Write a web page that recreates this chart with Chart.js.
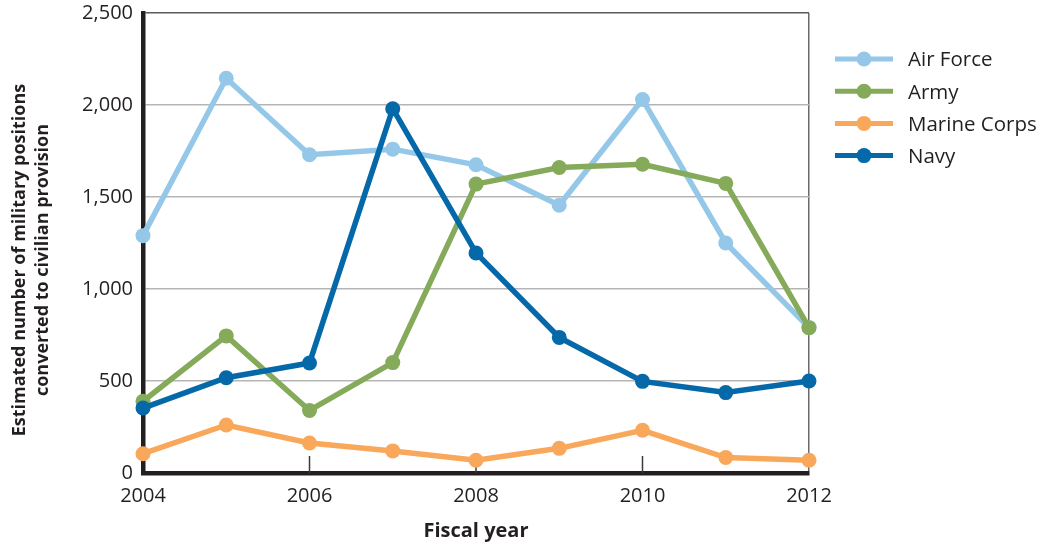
<!DOCTYPE html>
<html>
<head>
<meta charset="utf-8">
<script src="https://cdn.jsdelivr.net/npm/chart.js@4.4.1/dist/chart.umd.min.js"></script>
<style>
  html, body { margin: 0; padding: 0; background: #ffffff; }
  #wrap { width: 1047px; height: 544px; position: relative; }
</style>
</head>
<body>
<div id="wrap"><canvas id="chart"></canvas></div>
<script>
// Fiscal years on the x axis
const years = ['2004', '2005', '2006', '2007', '2008', '2009', '2010', '2011', '2012'];
// Estimated military positions converted to civilian provision, per service
const airForce    = [1290, 2145, 1730, 1760, 1675, 1455, 2030, 1250, 790];
const army        = [390, 745, 340, 600, 1570, 1660, 1678, 1574, 790];
const marineCorps = [105, 261, 163, 120, 69, 134, 232, 84, 69];
const navy        = [353, 518, 598, 1980, 1196, 737, 498, 437, 500];

const seriesNames  = ['Air Force', 'Army', 'Marine Corps', 'Navy'];
const seriesValues = [airForce, army, marineCorps, navy];
const seriesColors = ['#95c8e8', '#84aa5a', '#f9a85b', '#0569a9'];
// Stacking: Navy on top, then Army, Air Force, Marine Corps
const seriesOrder  = [2, 1, 3, 0];

const yTicks = [0, 500, 1000, 1500, 2000, 2500];
const xLabelYears = ['2004', '2006', '2008', '2010', '2012'];
const innerTickYears = ['2006', '2008', '2010'];
const yTitleLines = ['Estimated number of military positions', 'converted to civilian provision'];
const xTitle = 'Fiscal year';

const FONT = '"Open Sans", "Noto Sans", sans-serif';
const TEXT = '#231f20';

// Short tick marks standing up from the x axis inside the plot
const innerTicks = {
  id: 'innerTicks',
  beforeDatasetsDraw(chart) {
    const { ctx, scales: { x }, chartArea } = chart;
    ctx.save();
    ctx.strokeStyle = '#3a3a3a';
    ctx.lineWidth = 1.5;
    innerTickYears.forEach(yr => {
      const px = x.getPixelForValue(years.indexOf(yr));
      ctx.beginPath();
      ctx.moveTo(px, chartArea.bottom - 17);
      ctx.lineTo(px, chartArea.bottom);
      ctx.stroke();
    });
    ctx.restore();
  }
};

// Two-line rotated title for the value axis
const yAxisTitle = {
  id: 'yAxisTitle',
  afterDraw(chart) {
    const { ctx, chartArea } = chart;
    const cy = (chartArea.top + chartArea.bottom) / 2 + 17;
    ctx.save();
    ctx.translate(0, cy);
    ctx.rotate(-Math.PI / 2);
    ctx.fillStyle = TEXT;
    ctx.font = 'bold 18px ' + FONT;
    ctx.textAlign = 'center';
    ctx.textBaseline = 'alphabetic';
    ctx.fillText(yTitleLines[0], 0, 25);
    ctx.fillText(yTitleLines[1], 0, 48);
    ctx.restore();
  }
};

// Legend with line-and-marker swatches to the right of the plot
const lineLegend = {
  id: 'lineLegend',
  afterDraw(chart) {
    const { ctx } = chart;
    ctx.save();
    chart.data.datasets.forEach((ds, i) => {
      const y = 59 + i * 32.2;
      ctx.strokeStyle = ds.borderColor;
      ctx.lineWidth = 5;
      ctx.beginPath();
      ctx.moveTo(835, y);
      ctx.lineTo(893, y);
      ctx.stroke();
      ctx.fillStyle = ds.borderColor;
      ctx.beginPath();
      ctx.arc(864, y, 7.5, 0, Math.PI * 2);
      ctx.fill();
      ctx.fillStyle = TEXT;
      ctx.font = '20.5px ' + FONT;
      ctx.textAlign = 'left';
      ctx.textBaseline = 'middle';
      ctx.fillText(ds.label, 908, y + 1.5);
    });
    ctx.restore();
  }
};

const datasets = seriesNames.map((name, i) => ({
  label: name,
  data: seriesValues[i],
  borderColor: seriesColors[i],
  backgroundColor: seriesColors[i],
  pointBackgroundColor: seriesColors[i],
  pointBorderWidth: 0,
  pointRadius: 7.5,
  pointHoverRadius: 7.5,
  borderWidth: 5.5,
  tension: 0,
  fill: false,
  clip: false,
  order: seriesOrder[i]
}));

new Chart(document.getElementById('chart'), {
  type: 'line',
  data: { labels: years, datasets },
  plugins: [innerTicks, yAxisTitle, lineLegend],
  options: {
    responsive: true,
    maintainAspectRatio: false,
    animation: false,
    events: [],
    layout: { padding: { left: 0, right: 238, top: 13, bottom: 0 } },
    plugins: { legend: { display: false }, tooltip: { enabled: false } },
    scales: {
      x: {
        type: 'category',
        offset: false,
        grid: {
          drawTicks: false,
          lineWidth: 1.5,
          color: c => (c.index === years.length - 1 ? '#6a6a6a' : 'rgba(0,0,0,0)')
        },
        border: { display: true, color: TEXT, width: 4.5 },
        ticks: {
          autoSkip: false,
          maxRotation: 0,
          padding: 11,
          color: TEXT,
          font: { family: FONT, size: 20 },
          callback: function (v, idx) {
            const lab = this.getLabelForValue(v);
            return xLabelYears.includes(lab) ? lab : '';
          }
        },
        title: {
          display: true,
          text: xTitle,
          color: TEXT,
          font: { family: FONT, size: 20, weight: 'bold' },
          padding: { top: 0, bottom: 1 }
        },
        afterFit: s => { s.height = 71; s.paddingLeft = 0; s.paddingRight = 0; }
      },
      y: {
        min: 0,
        max: 2500,
        afterBuildTicks: s => { s.ticks = yTicks.map(v => ({ value: v })); },
        grid: {
          drawTicks: false,
          lineWidth: 1.5,
          color: c => {
            const v = c.tick ? c.tick.value : null;
            if (v === 0) return 'rgba(0,0,0,0)';
            if (v === 2500) return '#5a5a5a';
            return '#b5b5b5';
          }
        },
        border: { display: true, color: TEXT, width: 4.5 },
        ticks: {
          padding: 10,
          color: TEXT,
          font: { family: FONT, size: 20 },
          callback: v => v.toLocaleString('en-US')
        },
        afterFit: s => { s.width = 143; s.paddingTop = 0; s.paddingBottom = 0; }
      }
    }
  }
});
</script>
</body>
</html>
